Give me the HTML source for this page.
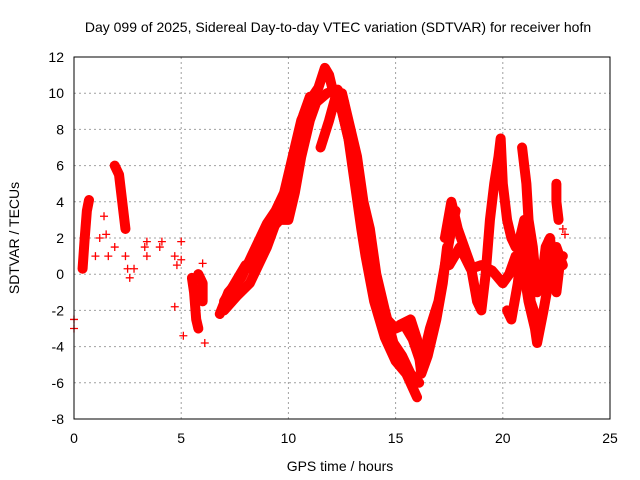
<!DOCTYPE html>
<html><head><meta charset="utf-8"><style>
body{margin:0;background:#fff}
svg{display:block;font-family:"Liberation Sans",sans-serif}
</style></head><body>
<svg id="chart" width="640" height="480">
<text x="338" y="32" text-anchor="middle" font-size="14">Day 099 of 2025, Sidereal Day-to-day VTEC variation (SDTVAR) for receiver hofn</text>
<text x="340" y="471" text-anchor="middle" font-size="14">GPS time / hours</text>
<text transform="translate(19,238) rotate(-90)" text-anchor="middle" font-size="14">SDTVAR / TECUs</text>
<g id="grid"></g><g id="ticks"></g><g id="marks"></g>
<rect x="74" y="57" width="536" height="362" fill="none" stroke="#000" stroke-width="1"/>
</svg>
<script>
const xTicks=[0,5,10,15,20,25];
const yTicks=[-8,-6,-4,-2,0,2,4,6,8,10,12];
const trackA=[[6.8,-2.2],[7.2,-1],[7.8,-0.2],[8.2,0.8],[8.6,1.8],[9.0,2.8],[9.4,3.5],[9.8,4.5],[10.2,6.5],[10.6,8.5],[11.0,9.6],[11.4,10.3],[11.7,11.4],[11.9,11],[12.1,10]];
const trackB=[[7.0,-1.5],[7.5,-0.5],[8.0,0.5],[8.4,0.2],[8.8,1.5],[9.2,2.5],[9.6,3.0],[10.0,3.0],[10.3,4.5],[10.6,6.5],[11.0,8.5],[11.3,9.5],[11.8,10.0],[12.3,10.2],[12.6,9.5]];
const trackB2=[[7.0,-2],[7.6,-1.2],[8.2,-0.5],[8.6,0.5],[9.0,1.5],[9.4,2.8],[9.8,3.5],[10.1,5],[10.4,7],[10.7,8.8],[11.0,9.8]];
const trackC=[[11.5,7.0],[11.9,8.5],[12.2,9.8],[12.5,9.0],[12.8,7.5],[13.1,5.0],[13.4,2.5],[13.6,1.0],[14.0,-1.5],[14.5,-3.5],[15.0,-4.8],[15.5,-5.5],[16.0,-6.8]];
const trackD=[[12.3,10.0],[12.6,8.5],[13.0,6.5],[13.4,4.5],[13.8,1.5],[14.2,-1.0],[14.6,-2.5],[15.0,-3.0],[15.4,-2.8],[15.8,-3.6],[16.2,-5],[16.6,-3],[17.0,-1.5],[17.3,0.5],[17.6,2.5],[17.8,3.5]];
const trackD2=[[12.5,10],[12.9,8],[13.2,6.5],[13.5,4],[13.8,2.5],[14.1,0],[14.5,-2],[14.9,-3.8],[15.3,-4.5],[15.7,-5.5],[16.1,-6]];
const trackE=[[15.2,-2.8],[15.7,-2.5],[16.0,-3.6],[16.2,-5.5],[16.5,-4.5],[16.9,-2.5],[17.2,-0.5],[17.4,1.5]];
const trackF=[[17.3,2],[17.6,4],[17.9,2.5],[18.2,1.5],[18.5,0.5],[18.8,-1.5],[19.0,-2],[19.2,0],[19.4,3],[19.6,5],[19.8,6.5],[19.9,7.5],[20.0,5],[20.2,3],[20.4,2],[20.6,1.5],[20.8,2],[21.0,3],[21.2,2.5]];
const trackG=[[17.5,0.5],[18.0,1.5],[18.5,0.3],[19.0,0.5],[19.5,0.2],[20.0,-0.5],[20.3,0],[20.6,1],[21.0,0],[21.2,-1.5],[21.5,-3],[21.6,-3.8],[21.9,-2],[22.2,0],[22.5,1.5],[22.8,0.5]];
const trackH=[[20.9,7],[21.1,5],[21.2,3],[21.4,1.5],[21.6,-1],[21.8,-0.5],[22.0,1.5],[22.2,2],[22.5,-1],[22.7,1],[22.8,1]];
const trackI=[[20.2,-2],[20.4,-2.5],[20.7,-0.5],[21.0,2.5],[21.3,-1.5],[21.5,-2.2]];
const trackJ=[[22.5,5],[22.5,4],[22.6,3]];
const trackK=[[0.4,0.3],[0.5,2],[0.6,3.5],[0.7,4.1]];
const trackL=[[1.9,6],[2.1,5.5],[2.2,4.5],[2.3,3.5],[2.4,2.5]];
const trackM=[[5.5,-0.2],[5.6,-1],[5.7,-2.5],[5.8,-3.0]];
const trackN=[[5.8,0],[6.0,-0.5],[6.0,-1.5]];
const scatterPts=[[0,-2.5],[0,-3],[1.0,1],[1.2,2],[1.4,3.2],[1.5,2.2],[1.6,1],[1.9,1.5],[2.4,1],[2.5,0.3],[2.6,-0.2],[2.8,0.3],[3.3,1.5],[3.4,1],[3.4,1.8],[4.0,1.5],[4.1,1.8],[4.7,1],[4.8,0.5],[5.0,1.8],[5.0,0.8],[4.7,-1.8],[5.1,-3.4],[6.1,-3.8],[6.0,0.6],[22.8,2.5],[22.9,2.2]];
const tracks=[trackA,trackB,trackB2,trackC,trackD,trackD2,trackE,trackF,trackG,trackH,trackI,trackJ,trackK,trackL,trackM,trackN];
const X0=74,X1=610,Y0=419,Y1=57;
const xs=t=>X0+(t-0)/(25-0)*(X1-X0);
const ys=v=>Y0-(v+8)/(12+8)*(Y0-Y1);
const NS="http://www.w3.org/2000/svg";
const grid=document.getElementById('grid'),ticks=document.getElementById('ticks'),marks=document.getElementById('marks');
function mk(tag,attrs,parent){const e=document.createElementNS(NS,tag);for(const k in attrs)e.setAttribute(k,attrs[k]);parent.appendChild(e);return e;}
xTicks.forEach(t=>{
  const x=xs(t);
  if(t>0&&t<25){const g=mk('line',{x1:x,x2:x,y1:Y1,y2:Y0,stroke:'#a0a0a0','stroke-dasharray':'2,3'},grid);
  
  }
  const l=mk('text',{x:x,y:443,'text-anchor':'middle','font-size':14},ticks);l.textContent=t;
  
  
});
yTicks.forEach(v=>{
  const y=ys(v);
  if(v>-8&&v<12){const g=mk('line',{x1:X0,x2:X1,y1:y,y2:y,stroke:'#a0a0a0','stroke-dasharray':'2,3'},grid);
  
  }
  const l=mk('text',{x:64,y:y+5,'text-anchor':'end','font-size':14},ticks);l.textContent=v;
  
  
});
function plus(t,v){
  const x=xs(t),y=ys(v);
  const p=mk('path',{d:`M${x-4} ${y}h8M${x} ${y-4}v8`,stroke:'#f00','stroke-width':1.3},marks);
  
  
}
tracks.forEach(tr=>{
  const pl=mk('polyline',{points:tr.map(p=>xs(p[0])+','+ys(p[1])).join(' '),fill:'none',stroke:'#f00','stroke-width':10,'stroke-linejoin':'round','stroke-linecap':'round'},marks);
  
  
  tr.forEach(p=>plus(p[0],p[1]));
});
scatterPts.forEach(p=>plus(p[0],p[1]));
</script>
</body></html>
